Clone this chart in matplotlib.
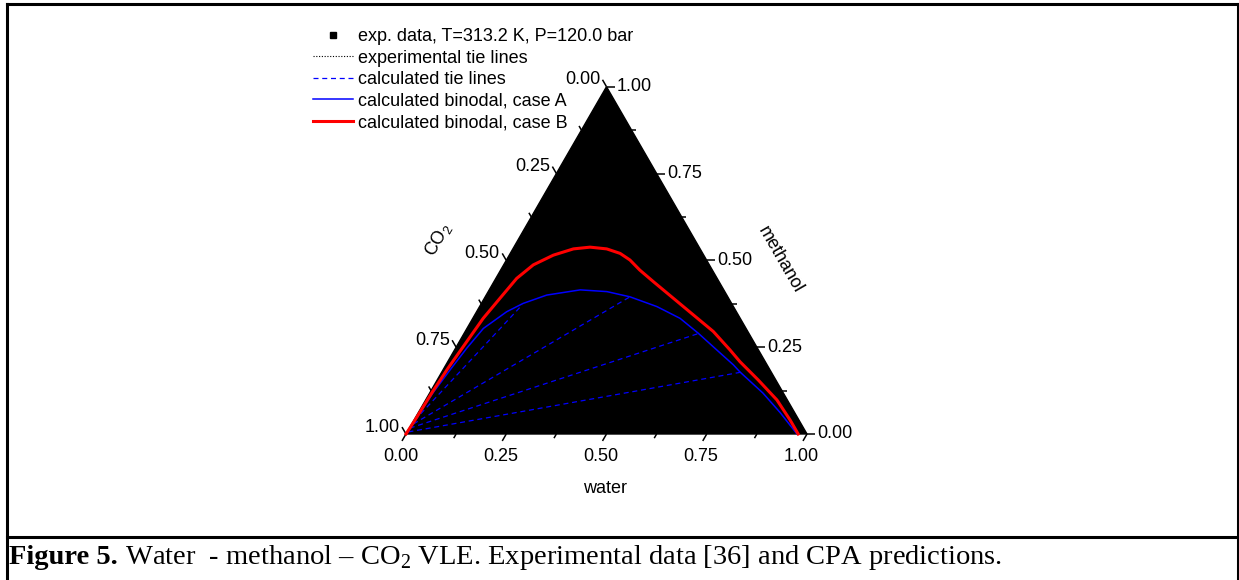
import matplotlib.pyplot as plt
import numpy as np
from matplotlib.lines import Line2D

plt.rcParams["font.family"] = ["Liberation Sans", "DejaVu Sans"]
plt.rcParams["mathtext.fontset"] = "custom"
plt.rcParams["mathtext.rm"] = "Liberation Serif"
plt.rcParams["mathtext.sf"] = "Liberation Sans"

# mole fractions (water, methanol); CO2 = 1 - water - methanol
binodal_b_water = [0.0, 0.0023, 0.0054, 0.010, 0.0185, 0.026, 0.039, 0.052, 0.074, 0.110,
                   0.151, 0.190, 0.234, 0.274, 0.308, 0.347, 0.397, 0.471, 0.545, 0.619,
                   0.687, 0.729, 0.800, 0.876, 0.938, 0.978]
binodal_b_methanol = [0.0, 0.040, 0.124, 0.189, 0.266, 0.333, 0.391, 0.448, 0.487, 0.515,
                      0.533, 0.538, 0.533, 0.520, 0.501, 0.472, 0.439, 0.391, 0.343, 0.295,
                      0.242, 0.208, 0.156, 0.098, 0.040, 0.0]

binodal_a_water = [0.0, 0.001, 0.008, 0.0175, 0.028, 0.041, 0.075, 0.104, 0.151, 0.227,
                   0.296, 0.361, 0.442, 0.517, 0.584, 0.654, 0.717, 0.743, 0.831, 0.903,
                   0.975]
binodal_a_methanol = [0.0, 0.006, 0.118, 0.184, 0.247, 0.304, 0.352, 0.376, 0.400, 0.415,
                      0.410, 0.395, 0.367, 0.333, 0.290, 0.242, 0.199, 0.179, 0.118, 0.061,
                      0.0]

# calculated tie lines: CO2-rich end -> water-rich end
tie_co2_water = [0.003, 0.001, 0.004, 0.002]
tie_co2_methanol = [0.006, 0.017, 0.029, 0.040]
tie_aq_water = [0.751, 0.584, 0.360, 0.104]
tie_aq_methanol = [0.179, 0.289, 0.394, 0.372]

major_ticks = [0.0, 0.25, 0.5, 0.75, 1.0]
minor_ticks = [0.125, 0.375, 0.625, 0.875]
tick_labels = ["0.00", "0.25", "0.50", "0.75", "1.00"]

H = np.sqrt(3) / 2


def to_xy(water, methanol):
    water = np.asarray(water, dtype=float)
    methanol = np.asarray(methanol, dtype=float)
    return water + methanol / 2, methanol * H


fig = plt.figure(figsize=(12.39, 5.80), dpi=100)
ax = fig.add_axes([406 / 1239, 146 / 580, 401 / 1239, 347.3 / 580])
ax.set_xlim(0, 1)
ax.set_ylim(0, H)
ax.axis("off")

ax.fill([0, 1, 0.5], [0, 0, H], color="black", zorder=0, clip_on=False)

for i in range(len(tie_co2_water)):
    x, y = to_xy([tie_co2_water[i], tie_aq_water[i]], [tie_co2_methanol[i], tie_aq_methanol[i]])
    ax.plot(x, y, color="#0000ff", lw=0.9, ls=(0, (4, 3)), clip_on=False, zorder=2)

x, y = to_xy(binodal_a_water, binodal_a_methanol)
ax.plot(x, y, color="#0000ff", lw=1.1, clip_on=False, zorder=3, solid_joinstyle="round")
x, y = to_xy(binodal_b_water, binodal_b_methanol)
ax.plot(x, y, color="#ff0000", lw=2.2, clip_on=False, zorder=4, solid_joinstyle="round")

fs = 13
tl_major = 0.02
tl_minor = 0.012
kw = dict(color="black", lw=1.1, clip_on=False, solid_capstyle="butt")

# bottom axis: water
d = np.array([-0.5, -H])
for v, lab in zip(major_ticks, tick_labels):
    p = np.array([v, 0.0])
    e = p + tl_major * d
    ax.plot([p[0], e[0]], [p[1], e[1]], **kw)
    ax.text(e[0] - 0.004, e[1] - 0.018, lab, ha="center", va="top", fontsize=fs)
for v in minor_ticks:
    p = np.array([v, 0.0])
    e = p + tl_minor * d
    ax.plot([p[0], e[0]], [p[1], e[1]], **kw)

# right axis: methanol
d = np.array([1.0, 0.0])
for v, lab in zip(major_ticks, tick_labels):
    p = np.array(to_xy(1 - v, v))
    e = p + tl_major * d
    ax.plot([p[0], e[0]], [p[1], e[1]], **kw)
    ax.text(e[0] + 0.006, e[1], lab, ha="left", va="center", fontsize=fs)
for v in minor_ticks:
    p = np.array(to_xy(1 - v, v))
    e = p + tl_minor * d
    ax.plot([p[0], e[0]], [p[1], e[1]], **kw)

# left axis: CO2
d = np.array([-0.5, H])
for v, lab in zip(major_ticks, tick_labels):
    p = np.array(to_xy(0.0, 1 - v))
    e = p + tl_major * d
    ax.plot([p[0], e[0]], [p[1], e[1]], **kw)
    ax.text(e[0] - 0.006, e[1], lab, ha="right", va="center", fontsize=fs)
for v in minor_ticks:
    p = np.array(to_xy(0.0, 1 - v))
    e = p + tl_minor * d
    ax.plot([p[0], e[0]], [p[1], e[1]], **kw)

ax.text(0.496, -0.135, "water", ha="center", va="center", fontsize=fs)
ax.text(0.932, 0.434, "methanol", ha="center", va="center", rotation=-60,
        rotation_mode="anchor", fontsize=fs)
ax.text(0.080, 0.484, r"CO$_\mathsf{2}$", ha="center", va="center", rotation=60,
        rotation_mode="anchor", fontsize=fs)

handles = [
    Line2D([], [], color="black", marker="s", ls="none", markersize=5),
    Line2D([], [], color="black", ls=(0, (1, 1.5)), lw=0.8),
    Line2D([], [], color="#0000ff", ls=(0, (4, 3)), lw=0.9),
    Line2D([], [], color="#0000ff", lw=1.1),
    Line2D([], [], color="#ff0000", lw=2.2),
]
labels = [
    "exp. data, T=313.2 K, P=120.0 bar",
    "experimental tie lines",
    "calculated tie lines",
    "calculated binodal, case A",
    "calculated binodal, case B",
]
fig.legend(handles, labels, loc="upper left", bbox_to_anchor=(313 / 1239, 1 - 28 / 580),
           frameon=False, borderpad=0, borderaxespad=0, handlelength=2.2,
           handletextpad=0.28, labelspacing=0.255, fontsize=fs)

# page frame and caption box
fw = 2.2
for xs, ys in [([6.5, 6.5], [0, 576]), ([6.5, 1237.5], [576, 576]),
               ([1237.5, 1237.5], [0, 576]), ([6.5, 1237.5], [43, 43])]:
    fig.add_artist(Line2D(np.array(xs) / 1239, np.array(ys) / 580, color="black",
                          lw=fw, transform=fig.transFigure, solid_capstyle="projecting"))

renderer = fig.canvas.get_renderer()
t1 = fig.text(9 / 1239, 1 - 557 / 580, "Figure 5.", fontsize=20.5, fontweight="bold",
              family="Liberation Serif", va="center")
bb = t1.get_window_extent(renderer=renderer)
fig.text(bb.x1 / 1239, 1 - 557 / 580,
         " Water  - methanol \u2013 CO$_2$ VLE. Experimental data [36] and CPA predictions.",
         fontsize=20.5, family="Liberation Serif", va="center")

fig.savefig("out.png", dpi=100)
